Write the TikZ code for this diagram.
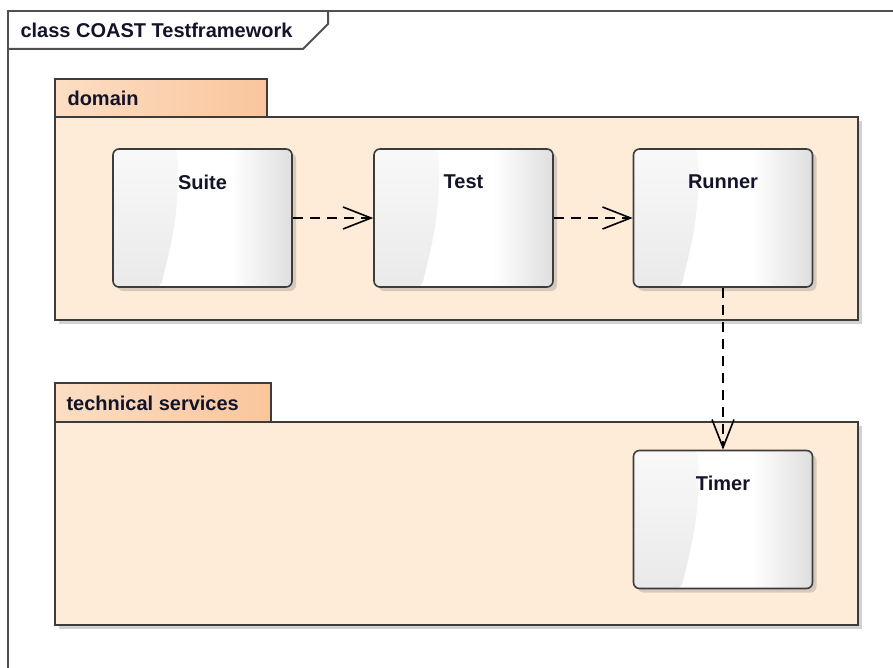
\documentclass[tikz,border=0pt]{standalone}
\usepackage{fontspec}
\setmainfont{Liberation Sans}
\usetikzlibrary{arrows.meta,shadows,calc}

\definecolor{pkgbody}{RGB}{254,235,216}
\definecolor{pkgtabL}{RGB}{252,222,196}
\definecolor{pkgtabM}{RGB}{255,238,223}
\definecolor{pkgtabR}{RGB}{250,197,156}
\definecolor{edgegray}{RGB}{60,60,60}
\definecolor{framegray}{RGB}{80,80,80}
\definecolor{txt}{RGB}{20,20,40}
\definecolor{fadegray}{RGB}{222,222,222}

% white body that turns grey towards the right edge
\pgfdeclarehorizontalshading{classfade}{100bp}{
  color(0bp)=(white); color(25bp)=(white); color(58bp)=(white);
  color(75bp)=(fadegray); color(100bp)=(fadegray)}

\tikzset{
  txtstyle/.style={font=\fontsize{20}{22}\selectfont\bfseries, text=txt},
  frameline/.style={draw=framegray, line width=2pt},
  pkgtab/.style={draw=edgegray, line width=1.6pt, left color=pkgtabL, middle color=pkgtabM, right color=pkgtabR},
  pkgbox/.style={draw=edgegray, line width=1.6pt, fill=pkgbody,
    drop shadow={shadow xshift=4pt, shadow yshift=-4pt, fill=gray, opacity=.35}},
  classbox/.style={draw=edgegray, line width=1.6pt, rounded corners=6pt,
    minimum width=179pt, minimum height=138pt, inner sep=0pt, shading=classfade,
    drop shadow={shadow xshift=4pt, shadow yshift=-4pt, fill=gray, opacity=.3},
    path picture={
      % curved grey sheen on the left
      \shade[top color=gray!5, bottom color=gray!17]
        (path picture bounding box.north west) -- ++(64,0)
        .. controls ++(4,70) and ++(6,-30) .. ++(-16,138)
        -- (path picture bounding box.south west) -- cycle;
    }},
  dep/.style={draw=black, line width=1.6pt, dash pattern=on 10pt off 7pt,
    -{Straight Barb[length=28pt, width=22pt, line width=1.6pt]}},
}

\begin{document}
\begin{tikzpicture}[x=1pt, y=-1pt]
  \useasboundingbox (0,0) rectangle (893,668);
  \clip (0,0) rectangle (893,668);
  \fill[white] (0,0) rectangle (893,668);

  % diagram frame with its name tab
  \draw[frameline] (8,680) -- (8,11) -- (900,11);
  \draw[frameline] (8,49) -- (303,49) -- (328,24) -- (328,11);
  \node[txtstyle, anchor=west] (frametitle) at (17,30) {class COAST Testframework};

  % package: domain
  \draw[pkgtab] (55,79) rectangle (267,117);
  \node[txtstyle, anchor=west] (domaintitle) at (64,98) {domain};
  \path[pkgbox] (55,117) rectangle (858,320);

  % package: technical services
  \draw[pkgtab] (55,383) rectangle (271,422);
  \node[txtstyle, anchor=west] (techtitle) at (63,403) {technical services};
  \path[pkgbox] (55,422) rectangle (858,625);

  % classes
  \node[classbox, label={[txtstyle, anchor=center, yshift=-34pt]north:Suite}] (suite) at (202.5,218) {};
  \node[classbox, label={[txtstyle, anchor=center, yshift=-34pt]north:Test}] (test) at (463.5,218) {};
  \node[classbox, label={[txtstyle, anchor=center, yshift=-34pt]north:Runner}] (runner) at (723,218) {};
  \node[classbox, label={[txtstyle, anchor=center, yshift=-34pt]north:Timer}] (timer) at (723,519.5) {};

  % dependencies
  \draw[dep] (suite.east) -- (test.west);
  \draw[dep] (test.east) -- (runner.west);
  \draw[dep] (runner.south) -- (timer.north);
\end{tikzpicture}
\end{document}
